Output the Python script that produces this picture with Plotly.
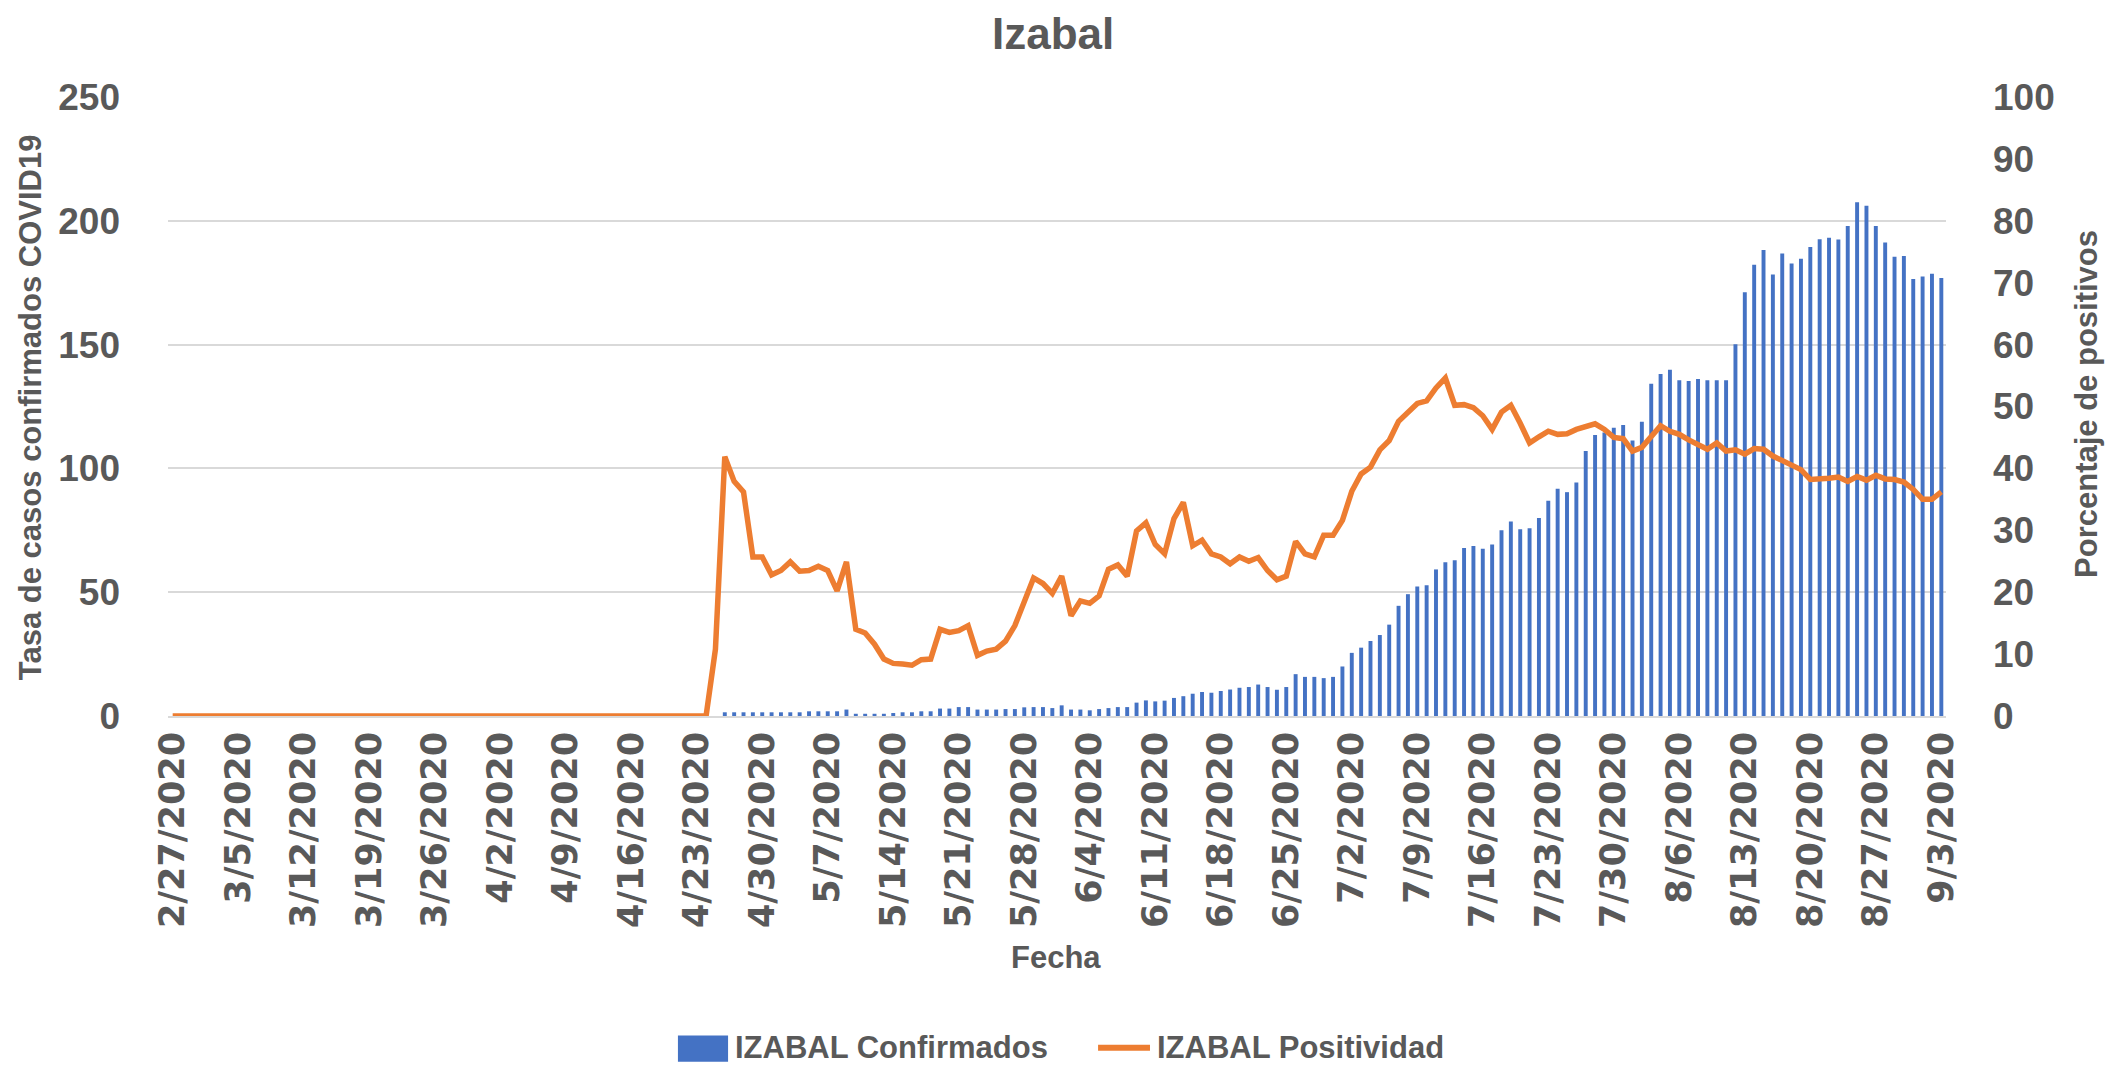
import pandas as pd
import plotly.graph_objects as go

# ---- data ----
dates = pd.date_range("2020-02-27", "2020-09-03", freq="D")
categories = [f"{d.month}/{d.day}/{d.year}" for d in dates]

# IZABAL Confirmados (tasa), 2/27 .. 9/3 (190 days)
confirmados = (
    [0] * 59 +
    [1.5, 1.5, 1.5, 1.5, 1.5, 1.5, 1.5, 1.5, 1.5, 1.9, 1.9, 1.9, 1.9,   # 59-71
     2.6, 0.9, 0.9, 0.9, 0.9, 1.2, 1.5, 1.5, 1.9, 1.9,                  # 72-81
     3.0, 3.0, 3.6, 3.6, 2.6, 2.6, 2.6, 2.8, 2.8, 3.5,                  # 82-91
     3.6, 3.6, 3.2, 4.3, 2.6, 2.6, 2.3, 2.8, 3.2, 3.6,                  # 92-101
     3.6, 5.4, 6.3, 5.9, 6.2, 7.3, 8.0, 9.0, 9.7, 9.4,                  # 102-111
     10.1, 10.7, 11.4, 11.7, 12.7, 11.7, 10.6, 11.7, 16.9, 15.8,        # 112-121
     15.8, 15.3, 15.8, 20.0, 25.5, 27.6, 30.3, 32.7, 36.9, 44.5,        # 122-131
     49.2, 52.3, 52.8, 59.2, 62.1, 62.9, 67.9, 68.7, 67.5, 69.3,        # 132-141
     75.0, 78.6, 75.4, 75.8, 80.0, 86.9, 91.8, 90.4, 94.3, 107.0,       # 142-151
     113.5, 114.5, 116.4, 117.5, 111.3, 118.8, 134.2, 138.1, 139.8, 135.6,  # 152-161
     135.3, 136.1, 135.6, 135.6, 135.6, 150.1, 171.1, 182.2, 188.2, 178.3,  # 162-171
     186.8, 182.8, 184.7, 189.4, 192.5, 193.2, 192.4, 197.9, 207.5, 206.1,  # 172-181
     197.9, 191.2, 185.5, 185.8, 176.5, 177.5, 178.6, 176.9]               # 182-189
)

# IZABAL Positividad (%)
positividad = (
    [0] * 58 +
    [10.8, 41.9, 37.9, 36.2, 25.7, 25.7, 22.8, 23.5, 24.9, 23.4,        # 58-67
     23.5, 24.2, 23.5, 20.2, 24.9, 14.0, 13.4, 11.6, 9.2, 8.5,          # 68-77
     8.4, 8.2, 9.1, 9.2, 14.0, 13.5, 13.8, 14.6, 9.8, 10.5,             # 78-87
     10.8, 12.1, 14.6, 18.6, 22.3, 21.4, 19.8, 22.6, 16.2, 18.6,        # 88-97
     18.2, 19.4, 23.7, 24.4, 22.6, 29.9, 31.2, 27.7, 26.2, 31.9,        # 98-107
     34.5, 27.5, 28.4, 26.2, 25.7, 24.6, 25.7, 25.0, 25.6, 23.5,        # 108-117
     22.0, 22.6, 28.2, 26.2, 25.7, 29.2, 29.2, 31.6, 36.3, 39.1,        # 118-127
     40.2, 43.0, 44.5, 47.6, 49.1, 50.5, 50.9, 53.0, 54.6, 50.2,        # 128-137
     50.3, 49.8, 48.5, 46.3, 49.1, 50.2, 47.3, 44.1, 45.1, 46.0,        # 138-147
     45.5, 45.6, 46.3, 46.7, 47.2, 46.3, 45.0, 44.8, 42.8, 43.4,        # 148-157
     45.3, 46.9, 46.0, 45.5, 44.6, 43.9, 43.1, 44.1, 42.8, 43.0,        # 158-167
     42.3, 43.2, 43.1, 42.0, 41.3, 40.5, 39.8, 38.2, 38.2, 38.4,        # 168-177
     38.6, 37.9, 38.7, 38.1, 38.9, 38.3, 38.2, 37.8, 36.6, 35.0,        # 178-187
     35.0, 36.2]                                                          # 188-189
)

tick_labels = categories[::7]
left_ticks = [0, 50, 100, 150, 200, 250]
right_ticks = [0, 10, 20, 30, 40, 50, 60, 70, 80, 90, 100]

BLUE = "#4472C4"
ORANGE = "#ED7D31"
GREY_TXT = "#595959"
GRID = "#D9D9D9"
NARROW = "Liberation Sans Narrow, Arial Narrow, Liberation Sans, Arial, sans-serif"
BOLD = "Liberation Sans, Arial, sans-serif"
TXT = 31

fig = go.Figure()
fig.add_trace(go.Bar(x=categories, y=confirmados, name="IZABAL Confirmados",
                     marker=dict(color=BLUE, line=dict(width=0)), yaxis="y",
                     showlegend=False))
fig.add_trace(go.Scatter(x=categories, y=positividad, name="IZABAL Positividad",
                         mode="lines", line=dict(color=ORANGE, width=5.5),
                         yaxis="y2", showlegend=False))

fig.update_layout(
    width=2105, height=1057,
    margin=dict(l=160, r=167, t=89, b=349.4),
    paper_bgcolor="white", plot_bgcolor="white",
    bargap=0.58,
    xaxis=dict(type="category", categoryorder="array", categoryarray=categories,
               tickmode="array", tickvals=tick_labels, ticktext=tick_labels,
               tickangle=-90, ticks="", showgrid=False,
               showline=True, linecolor=GRID, linewidth=2,
               tickfont=dict(family="DejaVu Sans", size=35, color=GREY_TXT, weight="bold"),
               ticklabelstandoff=0),
    yaxis=dict(range=[0, 250], tickvals=left_ticks, showgrid=True, gridcolor=GRID,
               gridwidth=2, zeroline=False, showline=False, ticks="",
               tickfont=dict(family=NARROW, size=37, color=GREY_TXT, weight="bold"),
               ticklabelstandoff=47),
    yaxis2=dict(range=[0, 100], tickvals=right_ticks, overlaying="y", side="right",
                showgrid=False, zeroline=False, showline=False, ticks="",
                tickfont=dict(family=NARROW, size=37, color=GREY_TXT, weight="bold"),
                ticklabelstandoff=46),
)

def note(text, x, y, size=TXT, angle=0, xanchor="center", yanchor="middle", family=NARROW):
    return dict(text=f"<b>{text}</b>", x=x, y=y, xref="paper", yref="paper",
                xanchor=xanchor, yanchor=yanchor, textangle=angle, showarrow=False,
                borderpad=0, font=dict(family=family, size=size, color=GREY_TXT))

ann = [
    note("Izabal", 0.498, 1.1435, size=44, yanchor="top", family=BOLD),
    note("Fecha", 0.4994, -0.39),
    note("Tasa de casos confirmados COVID19", -0.0776, 0.499, angle=-90),
    note("Porcentaje de positivos", 1.0787, 0.504, angle=-90),
    note("IZABAL Confirmados", 0.3183, -0.536, xanchor="left"),
    note("IZABAL Positividad", 0.5557, -0.536, xanchor="left"),
]
fig.update_layout(annotations=ann)
# legend swatches
fig.add_shape(type="rect", xref="paper", yref="paper", x0=0.2868, x1=0.3150,
              y0=-0.5584, y1=-0.5163, fillcolor=BLUE, line=dict(width=0))
fig.add_shape(type="line", xref="paper", yref="paper", x0=0.5231, x1=0.5523,
              y0=-0.536, y1=-0.536, line=dict(color=ORANGE, width=6))

fig.write_html("out.html")
